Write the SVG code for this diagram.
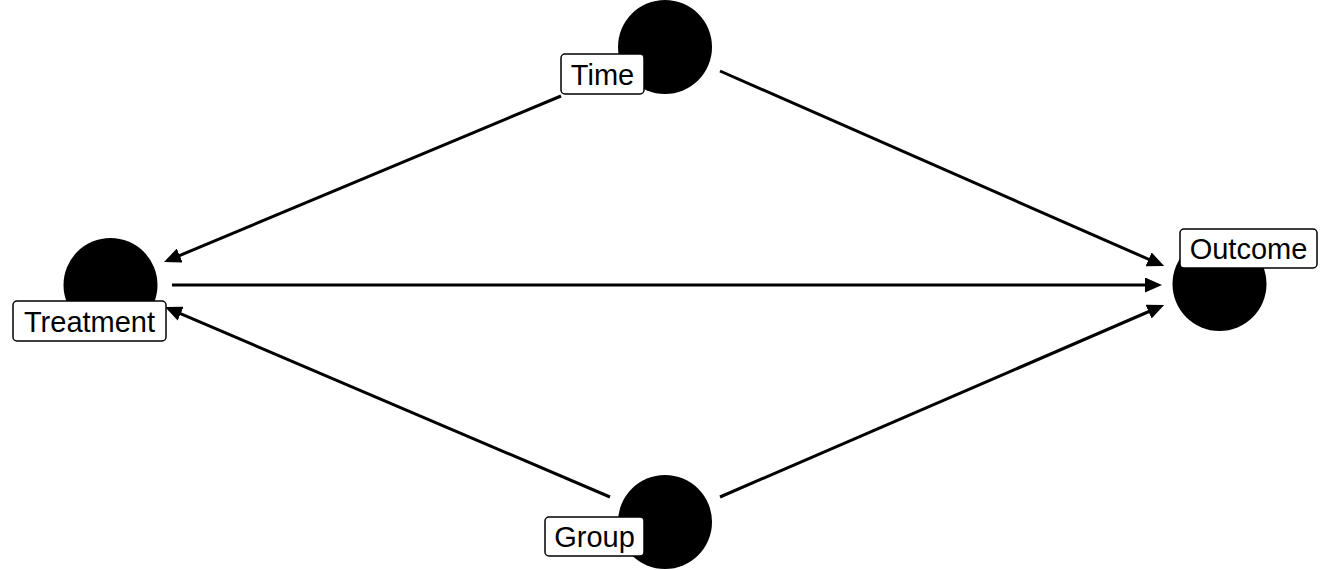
<svg xmlns="http://www.w3.org/2000/svg" width="1330" height="570" viewBox="0 0 1330 570">
<style>
.edge{stroke:#000;stroke-width:3;fill:none;marker-end:url(#ah)}
.dot{fill:#000}
.lbl{fill:#fff;stroke:#000;stroke-width:1.5}
.txt{font-family:"Liberation Sans",Arial,sans-serif;font-size:29px;fill:#000;text-anchor:middle}
</style>
<defs>
<marker id="ah" markerUnits="userSpaceOnUse" markerWidth="17" markerHeight="15" refX="13" refY="7.5" orient="auto">
<path d="M0,0 L17,7.5 L0,15 z" fill="#000"/>
</marker>
</defs>
<rect width="1330" height="570" fill="#fff"/>
<g id="connectors">
<line class="edge" x1="561" y1="96" x2="167.7" y2="260.5"/>
<line class="edge" x1="720" y1="71" x2="1160.5" y2="264.5"/>
<line class="edge" x1="172" y1="285" x2="1158" y2="285"/>
<line class="edge" x1="610" y1="497" x2="168.7" y2="308.6"/>
<line class="edge" x1="720" y1="497" x2="1160.5" y2="306.5"/>
</g>
<g id="node-time">
<circle class="dot" cx="665" cy="47" r="47"/>
<rect class="lbl" x="561" y="54" width="83" height="40" rx="4"/>
<text class="txt" x="602.5" y="85">Time</text>
</g>
<g id="node-treatment">
<circle class="dot" cx="110.5" cy="285" r="47"/>
<rect class="lbl" x="13" y="301" width="153" height="40" rx="4"/>
<text class="txt" x="89.5" y="332">Treatment</text>
</g>
<g id="node-outcome">
<circle class="dot" cx="1219.5" cy="284" r="47"/>
<rect class="lbl" x="1180" y="229" width="137" height="39" rx="4"/>
<text class="txt" x="1248.5" y="259">Outcome</text>
</g>
<g id="node-group">
<circle class="dot" cx="665" cy="522" r="47"/>
<rect class="lbl" x="545" y="517" width="99" height="39" rx="4"/>
<text class="txt" x="594.5" y="547">Group</text>
</g>
</svg>
